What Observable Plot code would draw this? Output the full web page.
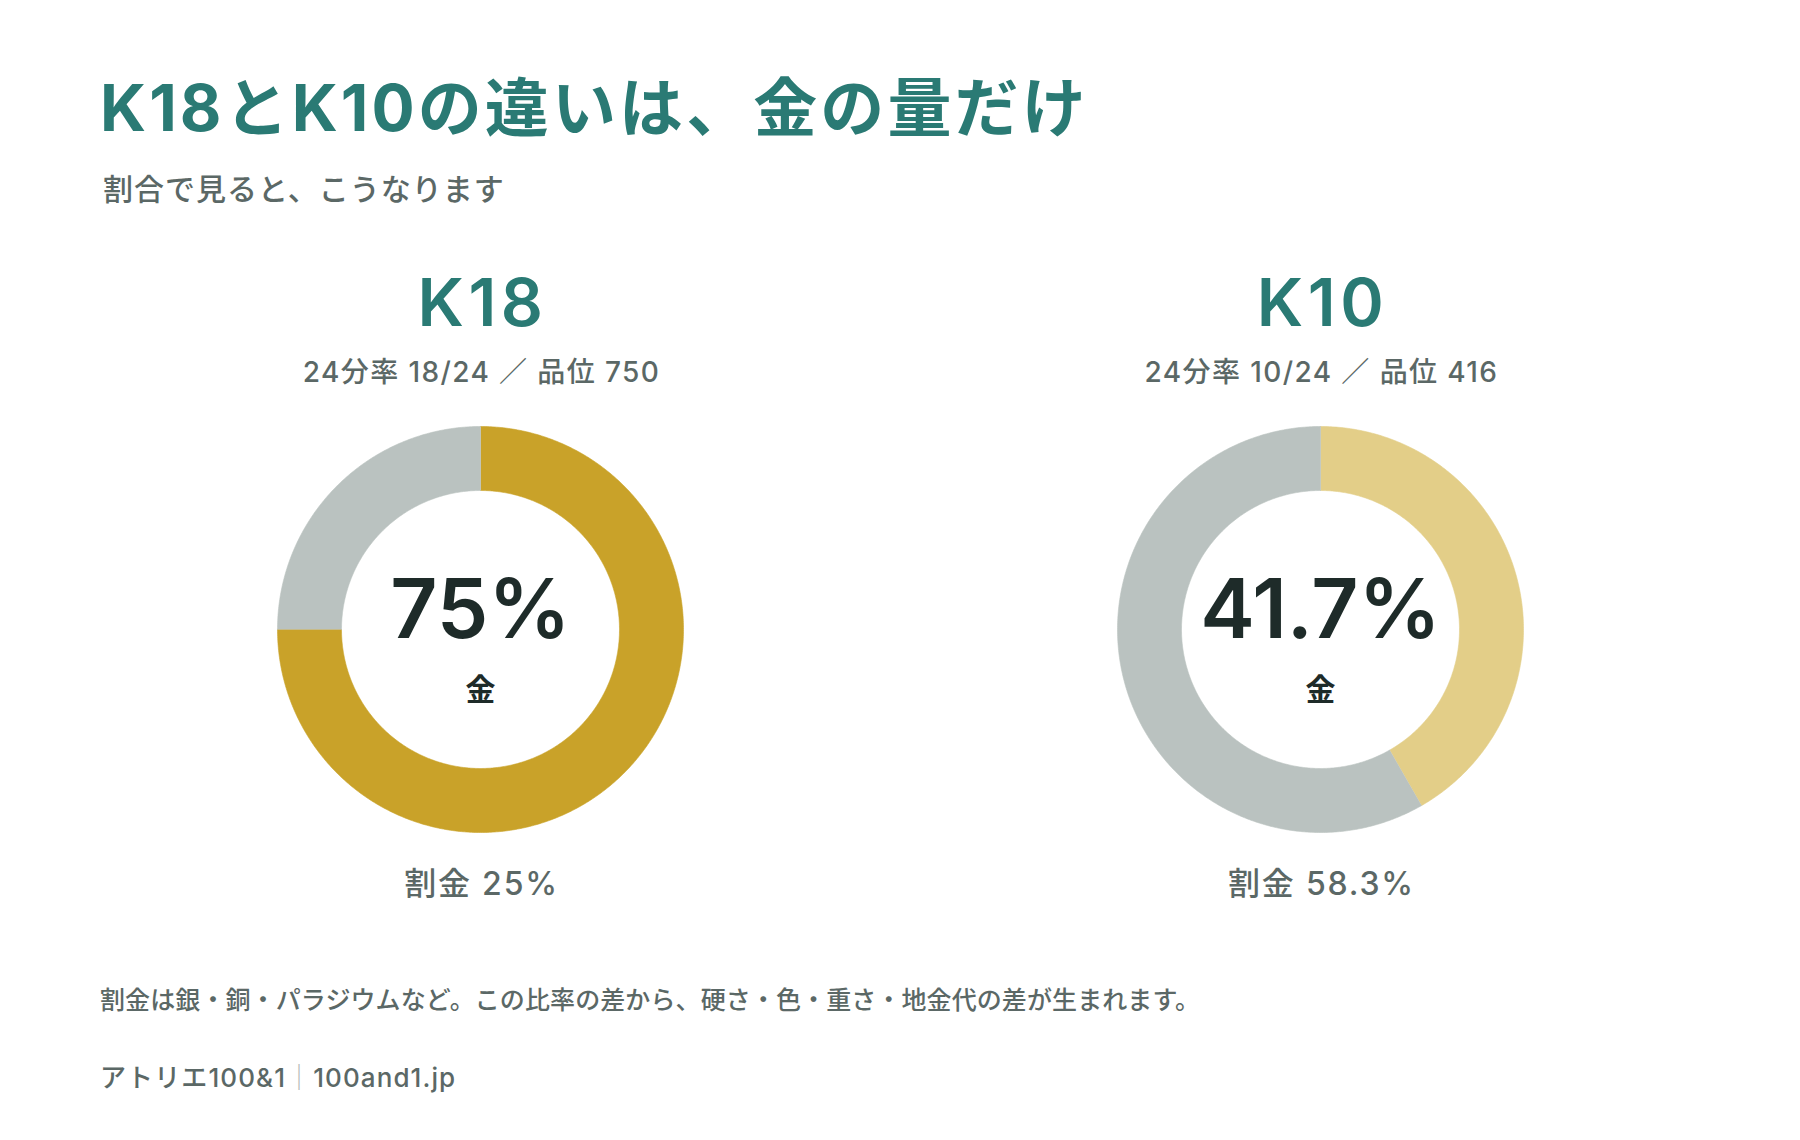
<!DOCTYPE html>
<html>
<head>
<meta charset="utf-8">
<script src="https://cdn.jsdelivr.net/npm/d3@7"></script>
<script src="https://cdn.jsdelivr.net/npm/@observablehq/plot@0.6"></script>
<style>
  html, body { margin: 0; padding: 0; background: #ffffff; }
  body { width: 1800px; height: 1140px; position: relative; overflow: hidden;
         font-family: Inter, "Noto Sans CJK JP", sans-serif; }
  .title { position: absolute; left: 100px; top: 76px; font-size: 64px; line-height: 1;
           font-weight: 700; color: #2a7a74; white-space: nowrap; letter-spacing: 3.1px; }
  .subtitle { position: absolute; left: 103px; top: 174px; font-size: 30px; line-height: 1;
              font-weight: 500; color: #5b6866; white-space: nowrap; letter-spacing: 1px; }
  #chart { position: absolute; left: 0; top: 240px; }
  .note { position: absolute; left: 100px; top: 988px; font-size: 25px; line-height: 1;
          font-weight: 500; color: #5b6866; white-space: nowrap; letter-spacing: 0.1px; }
  .source { position: absolute; left: 100px; top: 1065px; font-size: 26px; line-height: 1;
            font-weight: 500; color: #5b6866; white-space: nowrap; letter-spacing: 1.1px; }
  .source .sep { color: #b5bcba; }
</style>
</head>
<body>
<div class="title">K18とK10の違いは、金の量だけ</div>
<div class="subtitle">割合で見ると、こうなります</div>
<div id="chart"></div>
<div class="note">割金は銀・銅・パラジウムなど。この比率の差から、硬さ・色・重さ・地金代の差が生まれます。</div>
<div class="source">アトリエ100&amp;1<span class="sep">｜</span>100and1.jp</div>
<script>
// ---- data ----
const alloys = ["K18", "K10"];
const karatParts = ["18/24", "10/24"];
const fineness = ["750", "416"];
const goldPct = [75, 41.7];
const alloyPct = [25, 58.3];
const goldColors = ["#c9a229", "#e3ce88"];
const otherColor = "#bac2c0";

// ---- layout ----
const W = 1800, H = 700;
const R = 203;                 // outer radius px
const innerRatio = 139 / 203;  // inner / outer
const CXpx = [480, 1320];
const CYpx = 389;
const centers = CXpx.map(c => (c - CXpx[0]) / R);

function ring(i, f0, f1, color) {
  const pts = [];
  const n = Math.max(2, Math.ceil((f1 - f0) * 720));
  for (let k = 0; k <= n; k++) {
    const t = 2 * Math.PI * (f0 + (f1 - f0) * k / n);
    pts.push({x: centers[i] + Math.sin(t), y: Math.cos(t)});
  }
  for (let k = n; k >= 0; k--) {
    const t = 2 * Math.PI * (f0 + (f1 - f0) * k / n);
    pts.push({x: centers[i] + innerRatio * Math.sin(t), y: innerRatio * Math.cos(t)});
  }
  return Plot.line(pts, {x: "x", y: "y", fill: color, stroke: color, strokeWidth: 0.6, curve: "linear"});
}

const segMarks = alloys.flatMap((a, i) => [
  ring(i, 0, goldPct[i] / 100, goldColors[i]),
  ring(i, goldPct[i] / 100, 1, otherColor)
]);

const cx = (d, i) => centers[i];

const plot = Plot.plot({
  width: W, height: H,
  margin: 0,
  x: {domain: [-CXpx[0] / R, (W - CXpx[0]) / R], axis: null},
  y: {domain: [-(H - CYpx) / R, CYpx / R], axis: null},
  style: {fontFamily: 'Inter, "Noto Sans CJK JP", sans-serif', background: "transparent"},
  marks: [
    ...segMarks,
    Plot.text(alloys, {x: cx, y: () => 0, text: d => d, dy: -325, dx: 2, fontSize: 66, fontWeight: 600, fill: "#2a7a74"}),
    Plot.text(alloys, {x: cx, y: () => 0, text: (d, i) => `24分率 ${karatParts[i]} ／ 品位 ${fineness[i]}`, dy: -256, dx: 1, fontSize: 28, fontWeight: 500, fill: "#5b6866"}),
    Plot.text(alloys, {x: cx, y: () => 0, text: (d, i) => `${goldPct[i]}%`, dy: -18, fontSize: 82, fontWeight: 600, fill: "#1e2b29"}),
    Plot.text(alloys, {x: cx, y: () => 0, text: () => "金", dy: 61, fontSize: 30, fontWeight: 700, fill: "#1e2b29"}),
    Plot.text(alloys, {x: cx, y: () => 0, text: (d, i) => `割金 ${alloyPct[i]}%`, dy: 255, dx: 1, fontSize: 32, fontWeight: 500, fill: "#5b6866"})
  ]
});
// letter-spacing per text size (Plot has no letterSpacing option)
const spacing = {"66": "4.5px", "28": "1.4px", "32": "1.8px"};
d3.select(plot).selectAll("g, text").each(function() {
  const fs = this.getAttribute("font-size");
  if (fs && spacing[fs]) {
    d3.select(this).style("letter-spacing", spacing[fs]);
    d3.select(this).selectAll("text").style("letter-spacing", spacing[fs]);
  }
});
document.getElementById("chart").appendChild(plot);
</script>
</body>
</html>
